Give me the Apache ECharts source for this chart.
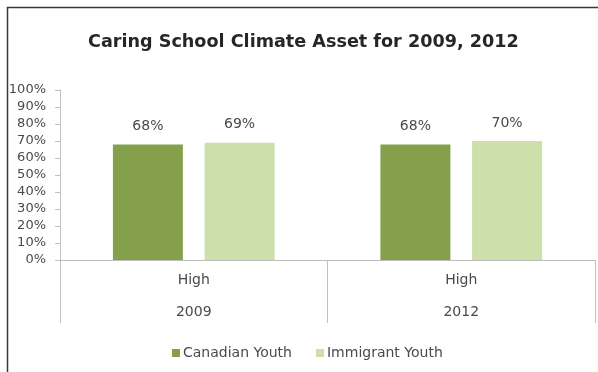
<!DOCTYPE html>
<html>
<head>
<meta charset="utf-8">
<script src="https://cdn.jsdelivr.net/npm/echarts@6/dist/echarts.min.js"></script>
<style>
  html, body { margin: 0; padding: 0; background: #fff; }
  #chart { width: 598px; height: 372px; }
</style>
</head>
<body>
<div id="chart"></div>
<script>
// Survey years and the response level shown for each
const years = ['2009', '2012'];
const level = 'High';
// Share of youth reporting a caring school climate (%)
const canadianYouth = [68, 68];
const immigrantYouth = [69, 70];
const yTicks = [0, 10, 20, 30, 40, 50, 60, 70, 80, 90, 100];

const chart = echarts.init(document.getElementById('chart'));
const font = 'DejaVu Sans';
const textGrey = '#4a4a4a';

chart.setOption({
  animation: false,
  backgroundColor: '#ffffff',
  title: {
    text: 'Caring School Climate Asset for 2009, 2012',
    left: 83,
    top: 28,
    textStyle: { fontFamily: font, fontSize: 17.6, fontWeight: 'bold', color: '#262626' }
  },
  legend: {
    top: 341,
    left: 167,
    itemWidth: 8,
    itemHeight: 8,
    itemGap: 24,
    icon: 'rect',
    textStyle: { fontFamily: font, fontSize: 14, color: textGrey, padding: [0, 0, 0, -2] },
    data: ['Canadian Youth', 'Immigrant Youth']
  },
  grid: { left: 60, right: 3, top: 90, bottom: 112 },
  xAxis: {
    type: 'category',
    data: years,
    axisLine: { lineStyle: { color: '#bfbfbf', width: 1 } },
    axisTick: { show: true, length: 63, alignWithLabel: false, lineStyle: { color: '#bfbfbf' } },
    axisLabel: {
      margin: 4,
      interval: 0,
      fontFamily: font,
      fontSize: 14,
      color: textGrey,
      lineHeight: 32,
      formatter: (v) => level + '\n' + v
    }
  },
  yAxis: {
    type: 'value',
    min: 0,
    max: 100,
    interval: 10,
    splitLine: { show: false },
    axisLine: { show: true, lineStyle: { color: '#bfbfbf' } },
    axisTick: { show: true, length: 5, lineStyle: { color: '#bfbfbf' } },
    axisLabel: {
      margin: 14,
      fontFamily: font,
      fontSize: 13,
      color: textGrey,
      formatter: (v) => yTicks.includes(v) ? v + '%' : ''
    }
  },
  series: [
    {
      name: 'Canadian Youth',
      type: 'bar',
      data: canadianYouth,
      barWidth: 70,
      barGap: '31%',
      itemStyle: { color: '#84a04a' },
      label: {
        show: true, position: 'top', distance: 11,
        fontFamily: font, fontSize: 14, color: textGrey,
        formatter: (p) => p.value + '%'
      }
    },
    {
      name: 'Immigrant Youth',
      type: 'bar',
      data: immigrantYouth,
      barWidth: 70,
      itemStyle: { color: '#cddfaa' },
      label: {
        show: true, position: 'top', distance: 11,
        fontFamily: font, fontSize: 14, color: textGrey,
        formatter: (p) => p.value + '%'
      }
    }
  ],
  graphic: [
    {
      type: 'polyline',
      silent: true,
      shape: { points: [[7.5, 372], [7.5, 7.5], [598, 7.5]] },
      style: { stroke: '#3a3a3a', lineWidth: 1.5, fill: null }
    }
  ]
});
</script>
</body>
</html>
